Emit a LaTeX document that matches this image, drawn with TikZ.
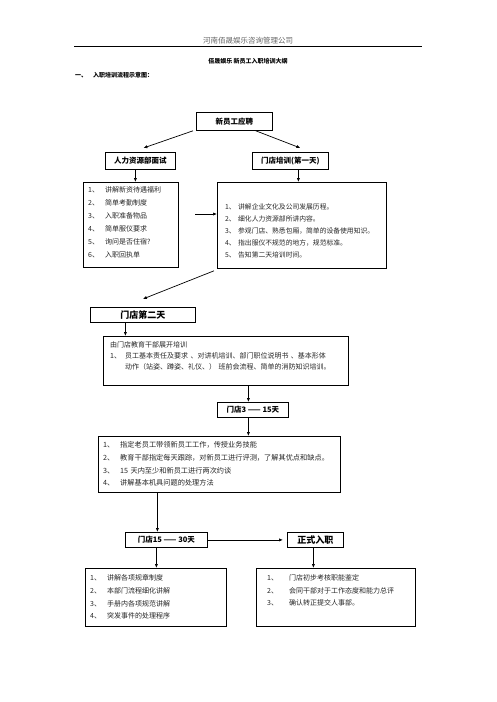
\documentclass[tikz,border=0pt]{standalone}
\usepackage{fontspec}
\setmainfont{Noto Sans CJK SC}
\usetikzlibrary{arrows.meta}
\newcommand\lnum[2]{\makebox[#1][l]{#2}}
\tikzset{
  box/.style={draw, line width=0.8pt, inner sep=0pt, anchor=north west},
  hd/.style={font=\fontsize{7.5}{9}\selectfont\bfseries},
  hdb/.style={font=\fontsize{9}{11}\selectfont\bfseries},
  arr/.style={-{Latex[length=4pt,width=3.2pt]}, line width=0.7pt},
  lst/.style={anchor=north west, inner sep=0pt, text width=320pt, align=left, text=black!85},
}
\begin{document}
\begin{tikzpicture}[x=1pt,y=-1pt]
\useasboundingbox[fill=white] (0,0) rectangle (496,702);
% header
\node[font=\fontsize{7.5}{9}\selectfont, text=black!60, inner sep=0pt] (hdr) at (248,41) {河南佰晟娱乐咨询管理公司};
\draw[line width=0.9pt] (74,46) -- (422,46);
\node[font=\fontsize{6}{8}\selectfont\bfseries, inner sep=0pt] (ttl) at (248,61) {佰晟娱乐\ 新员工入职培训大纲};
\node[font=\fontsize{6}{8}\selectfont\bfseries, inner sep=0pt, anchor=west] (sec) at (75,75) {\lnum{18pt}{一、}入职培训流程示意图：};
% boxes
\node[box,hd,minimum width=76pt,minimum height=18pt] (A) at (196,112) {新员工应聘};
\node[box,hd,minimum width=70pt,minimum height=17pt] (B) at (105,152) {人力资源部面试};
\node[box,hd,minimum width=76pt,minimum height=17pt] (C) at (252,152) {门店培训(第一天)};
\node[box,minimum width=95pt,minimum height=85pt] (D1) at (83,182) {};
\node[box,minimum width=169pt,minimum height=86pt] (D2) at (217,182) {};
\node[box,hdb,minimum width=105pt,minimum height=15pt] (E) at (90,307) {门店第二天};
\node[box,minimum width=245pt,minimum height=49pt] (F) at (103,336) {};
\node[box,hd,minimum width=71pt,minimum height=15pt] (G) at (217,402) {门店3 —— 15天};
\node[box,minimum width=242pt,minimum height=56pt] (H) at (98,436) {};
\node[box,hd,minimum width=82pt,minimum height=15pt] (I) at (125,532) {门店15 —— 30天};
\node[box,hdb,minimum width=56pt,minimum height=15pt] (J) at (287,532) {正式入职};
\node[box,minimum width=141pt,minimum height=58pt] (K) at (85,568) {};
\node[box,minimum width=159pt,minimum height=58pt] (L) at (256,568) {};
% texts
\node[lst,font=\fontsize{7}{13}\selectfont] (d1t) at (88,186.5) {\lnum{17pt}{1、}讲解新资待遇福利\\\lnum{17pt}{2、}简单考勤制度\\\lnum{17pt}{3、}入职准备物品\\\lnum{17pt}{4、}简单服仪要求\\\lnum{17pt}{5、}询问是否住宿?\\\lnum{17pt}{6、}入职回执单};
\node[lst,font=\fontsize{6.8}{12}\selectfont] (d2t) at (225,203.5) {\lnum{13pt}{1、}讲解企业文化及公司发展历程。\\\lnum{13pt}{2、}细化人力资源部所讲内容。\\\lnum{13pt}{3、}参观门店、熟悉包厢，简单的设备使用知识。\\\lnum{13pt}{4、}指出服仪不规范的地方，规范标准。\\\lnum{13pt}{5、}告知第二天培训时间。};
\node[lst,font=\fontsize{7}{11}\selectfont] (ft) at (110,341.5) {由门店教育干部展开培训\\\lnum{15pt}{1、}员工基本责任及要求 、对讲机培训、部门职位说明书 、基本形体\\\lnum{15pt}{}动作（站姿、蹲姿、礼仪、） 班前会流程、简单的消防知识培训。};
\node[lst,font=\fontsize{7.2}{12.7}\selectfont] (ht) at (103,441.5) {\lnum{17pt}{1、}指定老员工带领新员工工作，传授业务技能\\\lnum{17pt}{2、}教育干部指定每天跟踪，对新员工进行评测，了解其优点和缺点。\\\lnum{17pt}{3、}15 天内至少和新员工进行两次约谈\\\lnum{17pt}{4、}讲解基本机具问题的处理方法};
\node[lst,font=\fontsize{7}{12.7}\selectfont] (kt) at (90,574.5) {\lnum{17pt}{1、}讲解各项规章制度\\\lnum{17pt}{2、}本部门流程细化讲解\\\lnum{17pt}{3、}手册内各项规范讲解\\\lnum{17pt}{4、}突发事件的处理程序};
\node[lst,font=\fontsize{7}{12.5}\selectfont] (lt) at (267,574.5) {\lnum{22pt}{1、}门店初步考核职能鉴定\\\lnum{22pt}{2、}会同干部对于工作态度和能力总评\\\lnum{22pt}{3、}确认转正提交人事部。};
% connectors
\draw[arr] ([xshift=-3pt]A.south west) -- ([xshift=3pt,yshift=4pt]B.north);
\draw[arr] ([xshift=-17pt]A.south east) -- ([xshift=10pt,yshift=4pt]C.north);
\coordinate (b1) at ([xshift=-5pt]B.south);
\draw[arr] (b1) -- (b1 |- D1.north);
\coordinate (c1) at ([xshift=8pt]C.south);
\draw[arr] (c1) -- (c1 |- D2.north);
\coordinate (h1) at (195,214);
\draw[arr] (h1) -- (h1 -| D2.west);
\draw[arr] ([xshift=-3pt,yshift=-2pt]D2.south west) -- ([yshift=8pt]E.north);
\coordinate (e1) at ([xshift=-17.5pt]E.south);
\draw[arr] (e1) -- (e1 |- F.north);
\coordinate (g1) at ([xshift=-4.5pt]G.north);
\draw[arr] (g1 |- F.south) -- (g1);
\coordinate (g2) at ([xshift=-4.5pt]G.south);
\draw[arr] (g2) -- (g2 |- H.north);
\coordinate (i1) at ([xshift=-9pt]I.north);
\draw[arr] (i1 |- H.south) -- (i1);
\draw[arr] (I.east) -- ([xshift=-4pt]J.west);
\coordinate (i2) at ([xshift=-10pt]I.south);
\draw[arr] (i2) -- (i2 |- K.north);
\coordinate (j2) at ([xshift=-2pt]J.south);
\draw[arr] (j2) -- (j2 |- L.north);
\end{tikzpicture}
\end{document}
